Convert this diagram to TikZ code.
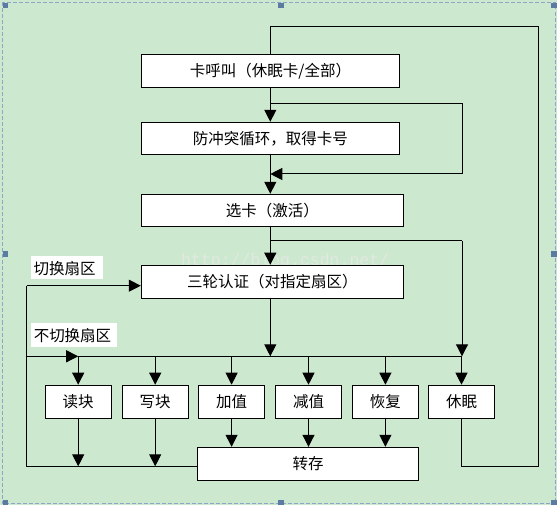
\documentclass[tikz,border=0pt]{standalone}
\usepackage{fontspec}
\newfontfamily\cjk{Noto Sans CJK SC}
\setmonofont{Liberation Mono}
\usetikzlibrary{arrows.meta}
\definecolor{bggreen}{HTML}{CCE8CF}
\definecolor{handle}{HTML}{5B7BA3}
\definecolor{dashc}{HTML}{8EA6C6}
\definecolor{wmark}{HTML}{E2E8E2}
\tikzset{
  box/.style={draw=black,line width=1pt,fill=white,inner sep=0pt,font=\cjk\fontsize{15.5}{17}\selectfont},
  bigbox/.style={box,minimum height=33pt},
  smallbox/.style={box,minimum width=66pt,minimum height=33pt},
  lbl/.style={fill=white,inner sep=0pt,font=\cjk\fontsize{15.5}{17}\selectfont,text depth=0pt},
  conn/.style={line width=1pt,draw=black},
  arr/.style={conn,-{Triangle[width=12pt,length=12pt]}},
  hnd/.style={fill=handle,draw=none}
}
\begin{document}
\begin{tikzpicture}[x=1pt,y=-1pt]
\fill[bggreen] (0,0) rectangle (557,505);
\useasboundingbox (0,0) rectangle (557,505);
% selection frame
\draw[dashc,line width=1pt,dash pattern=on 4pt off 2pt] (2.5,2.5) rectangle (555.5,503.5);
\foreach \hx/\hy in {5.3/5.3,281/5.3,554/5.3,5.3/254,554/254,5.3/502.5,281/502.5,554/502.5}
  \fill[hnd] (\hx-2.7,\hy-2.7) rectangle (\hx+2.7,\hy+2.7);
% watermark
\node[anchor=west,text=wmark,font=\ttfamily\fontsize{16.5}{18}\selectfont,inner sep=0pt] (wm) at (181,261) {http://blog.csdn.net/};

% main boxes
\node[bigbox,minimum width=258pt] (b1) at (270.5,71.5) {卡呼叫（休眠卡/全部）};
\node[bigbox,minimum width=258pt,minimum height=32pt] (b2) at (270.3,138.3) {防冲突循环，取得卡号};
\node[bigbox,minimum width=262pt,minimum height=32pt] (b3) at (272.3,210.3) {选卡（激活）};
\node[bigbox,minimum width=262pt] (b4) at (272.3,281.7) {三轮认证（对指定扇区）};
% operation boxes
\node[smallbox] (rd) at (78.2,401.7) {读块};
\node[smallbox] (wr) at (155.2,401.7) {写块};
\node[smallbox] (inc) at (231.6,401.7) {加值};
\node[smallbox] (dec) at (308.5,401.7) {减值};
\node[smallbox] (rst) at (385.4,401.7) {恢复};
\node[smallbox] (hlt) at (461.5,401.7) {休眠};
\node[box,minimum width=220.6pt,minimum height=33pt] (tr) at (308.2,463.8) {转存};
% labels
\node[lbl,minimum width=72pt,minimum height=23pt] (l1) at (67,267.7) {\hspace*{-5pt}切换扇区};
\node[lbl,minimum width=86pt,minimum height=24pt] (l2) at (74,334.7) {不切换扇区\hspace*{3pt}};

% helper coordinates
\coordinate (c1) at (270.3,26.3);
\coordinate (c2) at (538.5,26.3);
\coordinate (c3) at (538.5,466.3);
\coordinate (c4) at (461.5,466.3);
\coordinate (i1) at (270.3,103.3);
\coordinate (i2) at (462,103.3);
\coordinate (i3) at (462,174);
\coordinate (i4) at (270.3,174);
\coordinate (s1) at (270.3,241);
\coordinate (s2) at (462,241);
\coordinate (bus0) at (26.6,356.3);
\coordinate (busA) at (78.2,356.3);
\coordinate (busE) at (462,356.3);
\coordinate (busM) at (270.3,356.3);
\coordinate (bl) at (26.6,466.3);
\coordinate (tl) at (26.6,285.7);

% top loop (sleep back to call)
\draw[conn] (hlt.south) -- (c4) -- (c3) -- (c2) -- (c1) -- (b1.north -| c1);
% call -> anticollision
\draw[arr] (b1.south -| c1) -- (b2.north -| c1);
% anticollision bypass loop
\draw[conn] (i1) -- (i2) -- (i3);
\draw[arr] (i3) -- (i4);
% anticollision -> select
\draw[arr] (b2.south -| c1) -- (b3.north -| c1);
% select -> auth
\draw[arr] (b3.south -| c1) -- (b4.north -| c1);
% select -> bypass to bus
\draw[conn] (s1) -- (s2);
\draw[arr] (s2) -- (busE);
% auth -> bus
\draw[arr] (b4.south -| c1) -- (busM);
% bus
\draw[arr] (bus0) -- (busA);
\draw[conn] (busA) -- (busE);
\foreach \n in {rd,wr,inc,dec,rst,hlt}
  \draw[arr] (busA -| \n.north) -- (\n.north);
% ops -> transfer
\draw[arr] (rd.south) -- (rd.south |- bl);
\draw[arr] (wr.south) -- (wr.south |- bl);
\draw[arr] (inc.south) -- (tr.north -| inc.south);
\draw[arr] (dec.south) -- (tr.north -| dec.south);
\draw[arr] (rst.south) -- (tr.north -| rst.south);
% bottom-left loop back to auth
\draw[conn] (tr.west |- bl) -- (bl) -- (tl);
\draw[arr] (tl) -- (b4.west |- tl);
\end{tikzpicture}
\end{document}
